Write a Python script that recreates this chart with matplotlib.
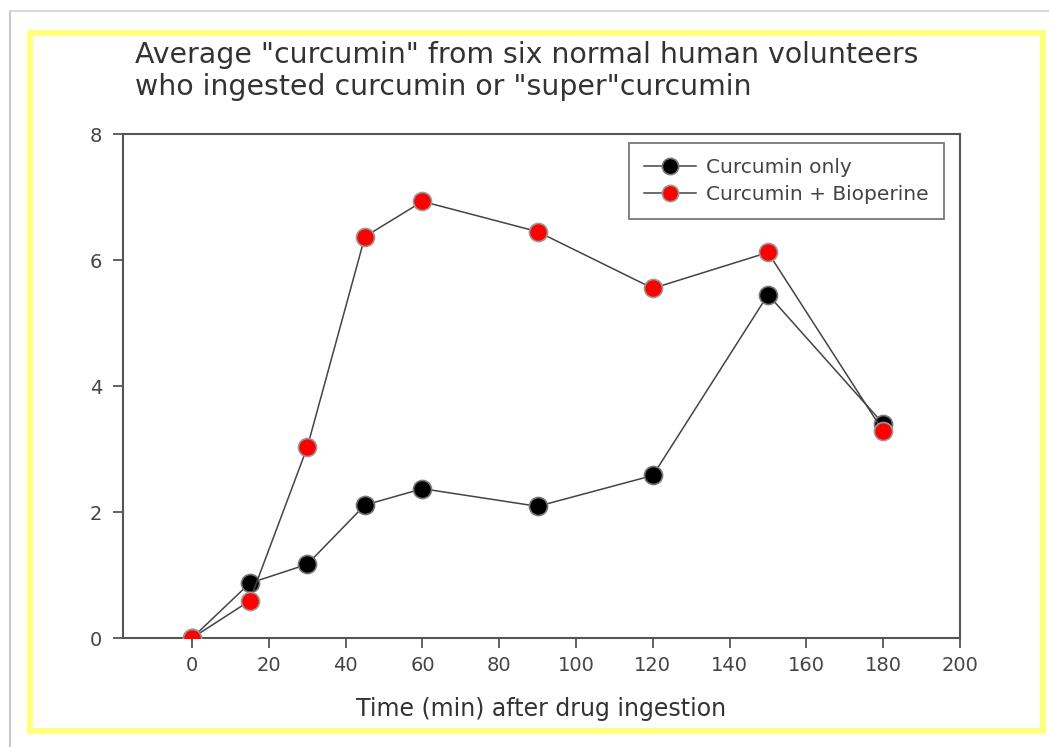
import matplotlib

matplotlib.use("Agg")
import matplotlib.pyplot as plt
from matplotlib.lines import Line2D
from matplotlib.patches import Rectangle

plt.rcParams["font.family"] = ["DejaVu Sans"]

# data
time_min = [0, 15, 30, 45, 60, 90, 120, 150, 180]
curcumin_only = [0, 0.87, 1.17, 2.11, 2.37, 2.09, 2.58, 5.45, 3.40]
curcumin_bioperine = [0, 0.59, 3.03, 6.37, 6.93, 6.45, 5.55, 6.12, 3.28]
x_ticks = [0, 20, 40, 60, 80, 100, 120, 140, 160, 180, 200]
y_ticks = [0, 2, 4, 6, 8]

W, H = 1049, 747
fig = plt.figure(figsize=(W / 100, H / 100), dpi=100)
fig.patch.set_facecolor("white")

# page edge and yellow frame
fig.add_artist(Line2D([10 / W, 10 / W], [0, 1 - 11 / H], transform=fig.transFigure,
                      color="#c8c8c8", lw=1.5))
fig.add_artist(Line2D([10 / W, 1], [1 - 11 / H, 1 - 11 / H], transform=fig.transFigure,
                      color="#d8d8d8", lw=1.5))
fig.add_artist(Rectangle((30 / W, 1 - 731 / H), 1013 / W, 698 / H, transform=fig.transFigure,
                         fill=False, edgecolor="#ffff80", lw=4.5))

ax = fig.add_axes([123 / W, 1 - 638 / H, 837 / W, 504 / H])

ax.plot(time_min, curcumin_only, color="#444444", lw=1.1,
        marker="o", markersize=13, markerfacecolor="black",
        markeredgecolor="#777777", markeredgewidth=1.2, label="Curcumin only", zorder=3)
ax.plot(time_min, curcumin_bioperine, color="#444444", lw=1.1,
        marker="o", markersize=13, markerfacecolor="#ff0000",
        markeredgecolor="#999999", markeredgewidth=1.2, label="Curcumin + Bioperine", zorder=4)

ax.set_xlim(-18, 200)
ax.set_ylim(0, 8)
ax.set_xticks(x_ticks)
ax.set_yticks(y_ticks)
for s in ax.spines.values():
    s.set_color("#555555")
    s.set_linewidth(1.5)
ax.tick_params(direction="out", length=7, width=1.3, color="#555555",
               labelcolor="#444444", labelsize=14, pad=6)
ax.tick_params(axis="y", pad=8)
ax.set_xlabel("Time (min) after drug ingestion", fontsize=17, color="#333333", labelpad=16)

leg = ax.legend(loc="upper right", bbox_to_anchor=(0.981, 0.982), borderaxespad=0,
                fontsize=14.5, frameon=True, fancybox=False, handlelength=2.6,
                borderpad=0.75, labelspacing=0.4, handletextpad=0.5, markerscale=0.9)
leg.get_frame().set_edgecolor("#555555")
leg.get_frame().set_linewidth(1.3)
for t in leg.get_texts():
    t.set_color("#444444")

fig.text(135 / W, 1 - 55 / H, 'Average "curcumin" from six normal human volunteers',
         fontsize=20.4, color="#333333", va="center", ha="left")
fig.text(135 / W, 1 - 87 / H, 'who ingested curcumin or "super"curcumin',
         fontsize=20.4, color="#333333", va="center", ha="left")

fig.savefig("out.png", dpi=100)
